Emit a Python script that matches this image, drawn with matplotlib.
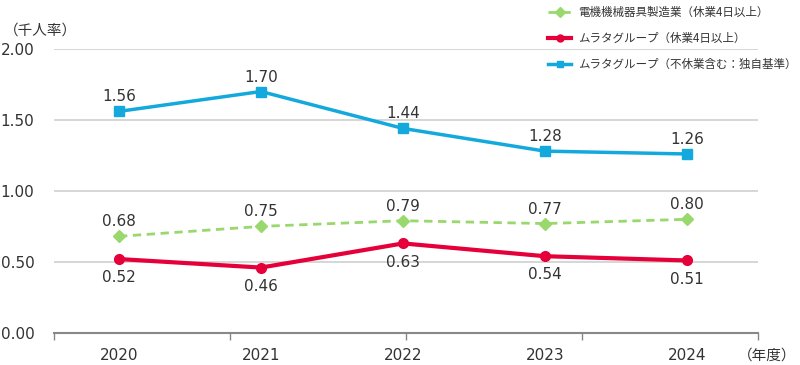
import numpy as np
import matplotlib.pyplot as plt

plt.rcParams['font.family'] = ['DejaVu Sans', 'Noto Sans CJK JP']

years = ['2020', '2021', '2022', '2023', '2024']
industry = [0.68, 0.75, 0.79, 0.77, 0.80]
murata = [0.52, 0.46, 0.63, 0.54, 0.51]
murata_all = [1.56, 1.70, 1.44, 1.28, 1.26]
names = ['電機機械器具製造業（休業4日以上）', 'ムラタグループ（休業4日以上）', 'ムラタグループ（不休業含む：独自基準）']

c_green = '#98D86C'
c_red = '#E6003A'
c_blue = '#14A9DC'

fig = plt.figure(figsize=(8, 3.65), dpi=100)
ax = fig.add_axes([0.0675, 0.088, 0.88, 0.778])
x = np.arange(len(years))

l1, = ax.plot(x, industry, color=c_green, lw=2, ls=(0, (3, 2)), marker='D', ms=6, zorder=3)
l2, = ax.plot(x, murata, color=c_red, lw=3, marker='o', ms=7, zorder=4)
l3, = ax.plot(x, murata_all, color=c_blue, lw=2.5, marker='s', ms=7, zorder=4)

for xi, v in zip(x, industry):
    ax.annotate(f'{v:.2f}', (xi, v), xytext=(0, 5), textcoords='offset points',
                ha='center', va='bottom', fontsize=11, color='#333333')
for xi, v in zip(x, murata):
    ax.annotate(f'{v:.2f}', (xi, v), xytext=(0, -8), textcoords='offset points',
                ha='center', va='top', fontsize=11, color='#333333')
for xi, v in zip(x, murata_all):
    ax.annotate(f'{v:.2f}', (xi, v), xytext=(0, 5), textcoords='offset points',
                ha='center', va='bottom', fontsize=11, color='#333333')

x0, x1 = -65 / 142, 4.5
ax.set_xlim(x0, x1)
ax.set_ylim(0, 2.0)
ax.set_yticks([0, 0.5, 1.0, 1.5, 2.0])
ax.set_yticklabels([f'{v:.2f}' for v in [0, 0.5, 1.0, 1.5, 2.0]], fontsize=11, color='#333333')
ax.tick_params(axis='y', length=0, pad=14)
ax.yaxis.grid(True, color='#d0d0d0', lw=1.2)
ax.set_axisbelow(True)

ax.set_xticks(np.linspace(x0, x1, 5))
ax.set_xticklabels([])
ax.tick_params(axis='x', length=5, color='#888888', width=1)
for xi, yr in zip(x, years):
    ax.text(xi, -0.11, yr, ha='center', va='top', fontsize=11, color='#333333')

for s in ['top', 'right', 'left']:
    ax.spines[s].set_visible(False)
ax.spines['bottom'].set_color('#888888')
ax.spines['bottom'].set_linewidth(1.5)

fig.text(0.005, 0.905, '（千人率）', fontsize=10.5, color='#333333', family=['Noto Sans CJK JP'])
fig.text(0.995, 0.015, '（年度）', fontsize=10.5, color='#333333', ha='right', family=['Noto Sans CJK JP'])

leg = fig.legend([l1, l2, l3], names, loc='upper left', bbox_to_anchor=(0.672, 1.012),
                 frameon=False, handlelength=2.0, handletextpad=0.6, labelspacing=1.12,
                 prop={'family': ['Noto Sans CJK JP', 'DejaVu Sans'], 'size': 8.3})
for h in leg.legend_handles:
    h.set_markersize(5)
for t in leg.get_texts():
    t.set_color('#333333')

fig.savefig('out.png', dpi=100)
